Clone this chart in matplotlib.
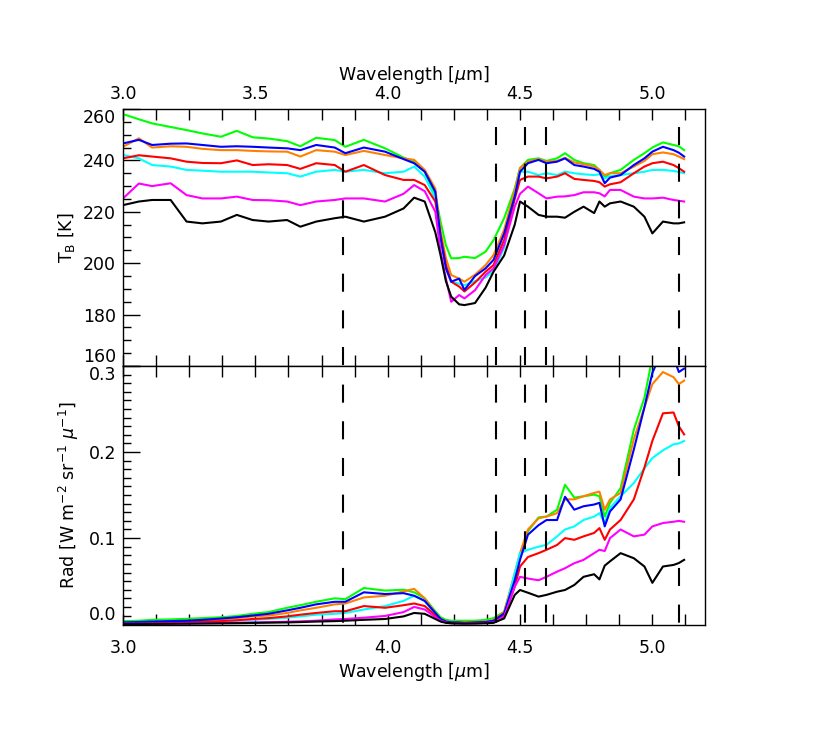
import numpy as np
import matplotlib
matplotlib.use('Agg')
import matplotlib.pyplot as plt
from matplotlib.ticker import MultipleLocator, FixedLocator, FormatStrFormatter

plt.rcParams['font.family'] = ['DejaVu Sans']
plt.rcParams['lines.scale_dashes'] = False
plt.rcParams['mathtext.fontset'] = 'dejavusans'

# ---------------- data ----------------
wavelength = [3.00, 3.06, 3.11, 3.18, 3.24, 3.30, 3.37, 3.43, 3.49, 3.55,
              3.62, 3.67, 3.73, 3.80, 3.84, 3.91, 3.99, 4.06, 4.10, 4.14,
              4.18, 4.20, 4.22, 4.24, 4.27, 4.29, 4.33, 4.37, 4.40, 4.44,
              4.48, 4.50, 4.53, 4.57, 4.60, 4.64, 4.67, 4.705, 4.74, 4.78,
              4.80, 4.82, 4.84, 4.88, 4.93, 4.97, 5.00, 5.04, 5.08, 5.10, 5.12]

tb_green = [258, 256, 254.4, 253, 251.8, 250.5, 249.2, 251.5, 249, 248.5,
            247.5, 245.5, 248.8, 247.9, 245.3, 248, 244.7, 241.1, 239.5, 235.6,
            226.5, 216, 207, 201.9, 202, 202.5, 202, 204.5, 209, 217.5,
            229, 237, 240.2, 240.8, 239.8, 240.8, 242.8, 240.2, 238.9, 238.2,
            236.3, 233.3, 235, 236.3, 240.2, 242.8, 245, 247, 246, 245.5, 244]
tb_orange = [245.3, 248.6, 245, 245.5, 245.3, 244.5, 244, 244, 243.7, 243.5,
             243.4, 241.5, 244, 243.4, 242.1, 243.7, 242.1, 240.8, 240.2, 236.3,
             229, 212.3, 202, 195.4, 194, 192.8, 195.5, 199.3, 203.2, 213,
             228.5, 237, 239.5, 240.5, 239.5, 239.8, 241, 239.2, 238.5, 237.6,
             236.3, 234.3, 235, 235, 237.6, 239.8, 242.4, 243.1, 242.4, 241.5, 240.5]
tb_blue = [246.6, 248, 246, 246.5, 246.6, 246, 245.3, 245.5, 245.3, 245,
           244.7, 244, 246, 245, 242.8, 245, 243.4, 240.5, 238.9, 235.6,
           227.8, 209.7, 198, 192.8, 194, 189.6, 195, 198, 201.3, 211.5,
           226, 235.6, 238.9, 240.2, 238.9, 239.5, 240.8, 238.2, 237.6, 236.7,
           235.6, 231.1, 233.3, 234.3, 238.2, 240.8, 243.4, 245.3, 244, 243, 241.5]
tb_red = [240.8, 242, 241.5, 240.8, 239.5, 239, 238.9, 240, 238.2, 238.5,
          238.2, 236.7, 238.9, 238.2, 235.6, 238.2, 234.3, 232.4, 232.4, 230.4,
          224, 211, 199.3, 192.8, 190.9, 189, 192.5, 196.7, 199.3, 209,
          225, 232.4, 233.7, 233.7, 233, 233.7, 235, 232.8, 232.4, 232,
          231.5, 229.8, 230.7, 231.5, 235, 237.6, 238.9, 239.5, 238.2, 237, 235.6]
tb_cyan = [242.1, 240.8, 238.2, 237.6, 236.3, 236, 235.6, 235.6, 235.6, 235.3,
           235, 233.7, 235.6, 236.3, 235.6, 236.3, 235, 235.6, 237.6, 233.7,
           225.2, 209.7, 198, 192.8, 192, 191.5, 193, 194.5, 197, 206,
           226, 235.6, 235.6, 234.3, 235, 234.3, 235.6, 235, 234.6, 234.3,
           234.6, 233, 233.8, 234.3, 235, 235.6, 236.3, 236.3, 235.9, 235.5, 235]
tb_magenta = [225.2, 231, 230, 231.1, 226.5, 225.2, 225.2, 225.9, 224.6, 224.5,
              224, 222.6, 224, 224.6, 225.2, 225.2, 224, 227, 230.4, 228,
              220, 204.5, 194, 185, 187.6, 186.3, 189.5, 195.4, 198, 207,
              222, 227, 229.8, 227.2, 225.2, 225.9, 226, 226.5, 227.6, 227.6,
              227.2, 226, 228.5, 228.5, 225.9, 225.2, 225.2, 225.5, 224.6, 224.3, 224]
tb_black = [222.6, 224, 224.6, 224.6, 216.2, 215.5, 216.2, 218.8, 216.8, 216.2,
            216.8, 214.2, 216.2, 217.5, 218.1, 216.2, 218.1, 221.3, 225.5, 224,
            212, 203, 193, 187, 184, 183.7, 184.5, 190.5, 196.7, 203,
            215, 224, 222, 218.8, 218.1, 218.1, 217.7, 220, 222, 219.5,
            224, 222, 223.3, 224, 222, 218.1, 211.6, 216.2, 215.5, 215.5, 215.9]

rad_green = [0.0035, 0.004, 0.005, 0.0055, 0.0062, 0.007, 0.008, 0.0095, 0.012, 0.014,
             0.019, 0.022, 0.026, 0.030, 0.029, 0.042, 0.039, 0.040, 0.037, 0.030,
             0.015, 0.008, 0.005, 0.004, 0.004, 0.004, 0.004, 0.005, 0.007, 0.0144,
             0.055, 0.0786, 0.108, 0.124, 0.125, 0.133, 0.162, 0.147, 0.1486, 0.1505,
             0.1486, 0.125, 0.141, 0.158, 0.226, 0.263, 0.31, 0.34, 0.34, 0.335, 0.33]
rad_orange = [0.0015, 0.002, 0.0025, 0.003, 0.0035, 0.0045, 0.0055, 0.007, 0.009, 0.010,
              0.013, 0.016, 0.019, 0.023, 0.024, 0.031, 0.033, 0.038, 0.041, 0.030,
              0.013, 0.006, 0.003, 0.0025, 0.002, 0.002, 0.0025, 0.003, 0.0045, 0.0144,
              0.059, 0.0825, 0.11, 0.123, 0.125, 0.129, 0.145, 0.145, 0.1486, 0.1525,
              0.154, 0.133, 0.145, 0.1525, 0.215, 0.252, 0.279, 0.293, 0.287, 0.279, 0.283]
rad_blue = [0.002, 0.0025, 0.003, 0.0035, 0.004, 0.005, 0.0065, 0.008, 0.010, 0.012,
            0.016, 0.019, 0.023, 0.026, 0.026, 0.037, 0.035, 0.036, 0.033, 0.027,
            0.013, 0.006, 0.003, 0.002, 0.002, 0.0015, 0.002, 0.0025, 0.004, 0.0125,
            0.051, 0.0747, 0.104, 0.115, 0.121, 0.121, 0.148, 0.133, 0.137, 0.139,
            0.141, 0.1136, 0.131, 0.145, 0.203, 0.252, 0.292, 0.32, 0.31, 0.293, 0.297]
rad_red = [0.001, 0.0012, 0.0015, 0.002, 0.0025, 0.003, 0.0035, 0.0045, 0.006, 0.007,
           0.009, 0.011, 0.013, 0.015, 0.015, 0.021, 0.019, 0.022, 0.024, 0.021,
           0.010, 0.005, 0.0025, 0.0015, 0.0012, 0.001, 0.0015, 0.002, 0.003, 0.0105,
           0.0436, 0.067, 0.078, 0.0825, 0.0864, 0.092, 0.100, 0.098, 0.102, 0.106,
           0.1116, 0.098, 0.11, 0.121, 0.145, 0.182, 0.213, 0.245, 0.246, 0.23, 0.2205]
rad_cyan = [0.001, 0.0012, 0.0015, 0.0018, 0.002, 0.0025, 0.003, 0.004, 0.005, 0.006,
            0.0075, 0.009, 0.011, 0.012, 0.013, 0.017, 0.021, 0.027, 0.033, 0.027,
            0.011, 0.005, 0.0025, 0.0015, 0.0012, 0.001, 0.0012, 0.0015, 0.0025, 0.0105,
            0.059, 0.0825, 0.0864, 0.09, 0.0922, 0.102, 0.11, 0.1136, 0.121, 0.125,
            0.129, 0.1175, 0.135, 0.1486, 0.164, 0.181, 0.193, 0.202, 0.209, 0.210, 0.2128]
rad_magenta = [0.0005, 0.0006, 0.0007, 0.0008, 0.001, 0.0012, 0.0014, 0.0016, 0.002, 0.0023,
               0.0028, 0.0033, 0.004, 0.0055, 0.006, 0.0075, 0.0095, 0.014, 0.020, 0.017,
               0.008, 0.004, 0.002, 0.001, 0.001, 0.001, 0.001, 0.0015, 0.002, 0.0086,
               0.0436, 0.055, 0.053, 0.051, 0.055, 0.061, 0.065, 0.0708, 0.0747, 0.0825,
               0.0864, 0.085, 0.100, 0.11, 0.102, 0.104, 0.1136, 0.1175, 0.119, 0.120, 0.119]
rad_black = [0.0, 0.0002, 0.0003, 0.0004, 0.0005, 0.0007, 0.0009, 0.0011, 0.0014, 0.0017,
             0.002, 0.0024, 0.003, 0.0035, 0.004, 0.005, 0.006, 0.009, 0.013, 0.012,
             0.006, 0.003, 0.0015, 0.001, 0.0007, 0.0006, 0.0007, 0.001, 0.0015, 0.0066,
             0.034, 0.0397, 0.0365, 0.032, 0.034, 0.0377, 0.0397, 0.0455, 0.055, 0.058,
             0.052, 0.068, 0.073, 0.0825, 0.0766, 0.067, 0.048, 0.067, 0.0688, 0.071, 0.0747]

marker_wavelengths = [3.83, 4.41, 4.52, 4.60, 5.10]
tb_ticks = [160, 180, 200, 220, 240, 260]
rad_ticks = [0.0, 0.1, 0.2, 0.3]

series_colors = ['#00ff00', '#ff8000', '#00ffff', '#ff0000', '#0000ff', '#ff00ff', '#000000']
tb_series = [tb_green, tb_orange, tb_cyan, tb_red, tb_blue, tb_magenta, tb_black]
rad_series = [rad_green, rad_orange, rad_cyan, rad_red, rad_blue, rad_magenta, rad_black]

for s in tb_series + rad_series:
    assert len(s) == len(wavelength)

# ---------------- figure ----------------
fig = plt.figure(figsize=(8.3, 7.36), dpi=100)
L, W = 123 / 830, (705.3 - 123) / 830
ax1 = fig.add_axes([L, 1 - 366 / 736, W, (366 - 109) / 736])
ax2 = fig.add_axes([L, 1 - 625 / 736, W, (625 - 366) / 736])

for tb, c in zip(tb_series, series_colors):
    ax1.plot(wavelength, tb, color=c, lw=1.5, zorder=2)
for rad, c in zip(rad_series, series_colors):
    ax2.plot(wavelength, rad, color=c, lw=1.5, zorder=2)

dash = (13.0, 13.4)
for xm in marker_wavelengths:
    ax1.plot([xm, xm], [253.1, 160], color='black', lw=1.5,
             linestyle=(0, dash), zorder=3)
    ax2.plot([xm, xm], [0.30, -0.002], color='black', lw=1.5,
             linestyle=(13.0, dash), zorder=3, clip_on=True)

fs = 12.5
for ax in (ax1, ax2):
    ax.set_xlim(3.0, 5.2)
    ax.xaxis.set_major_locator(MultipleLocator(0.5))
    ax.xaxis.set_minor_locator(MultipleLocator(0.125))
    ax.xaxis.set_major_formatter(FormatStrFormatter('%.1f'))
    ax.tick_params(axis='x', which='both', direction='in', top=True, bottom=True,
                   length=8, width=1.0, labelsize=fs)
    ax.tick_params(axis='y', which='major', direction='in', left=True, right=False,
                   length=12, width=1.0, labelsize=fs, pad=5)
    ax.tick_params(axis='y', which='minor', direction='in', left=True, right=False,
                   length=6, width=1.0)
    for sp in ax.spines.values():
        sp.set_linewidth(1.0)

ax1.set_ylim(160, 260)
ax1.yaxis.set_major_locator(FixedLocator(tb_ticks))
ax1.yaxis.set_minor_locator(MultipleLocator(5))
ax1.tick_params(axis='x', labeltop=True, labelbottom=False, pad=4)
ax1.xaxis.set_label_position('top')
ax1.set_xlabel(r'Wavelength [$\mu$m]', fontsize=fs, labelpad=4)
ax1.set_ylabel(r'T$_{\rm B}$ [K]', fontsize=fs)

ax2.set_ylim(-0.001, 0.30)
ax2.yaxis.set_major_locator(FixedLocator(rad_ticks))
ax2.yaxis.set_minor_locator(MultipleLocator(0.01))
ax2.yaxis.set_major_formatter(FormatStrFormatter('%.1f'))
ax2.tick_params(axis='x', labeltop=False, labelbottom=True, pad=10)
ax2.set_xlabel(r'Wavelength [$\mu$m]', fontsize=fs, labelpad=3)
ax2.set_ylabel(r'Rad [W m$^{-2}$ sr$^{-1}$ $\mu^{-1}$]', fontsize=fs)

# end labels are pushed inside their own panel, as in the reference
for ax in (ax1, ax2):
    ticks = ax.yaxis.get_major_ticks()
    ticks[0].label1.set_verticalalignment('bottom')
    ticks[-1].label1.set_verticalalignment('top')

ax1.yaxis.set_label_coords((77 - 123) / 582.3, 0.5)
ax2.yaxis.set_label_coords((81 - 123) / 582.3, 0.5)

fig.savefig('out.png', dpi=100)
